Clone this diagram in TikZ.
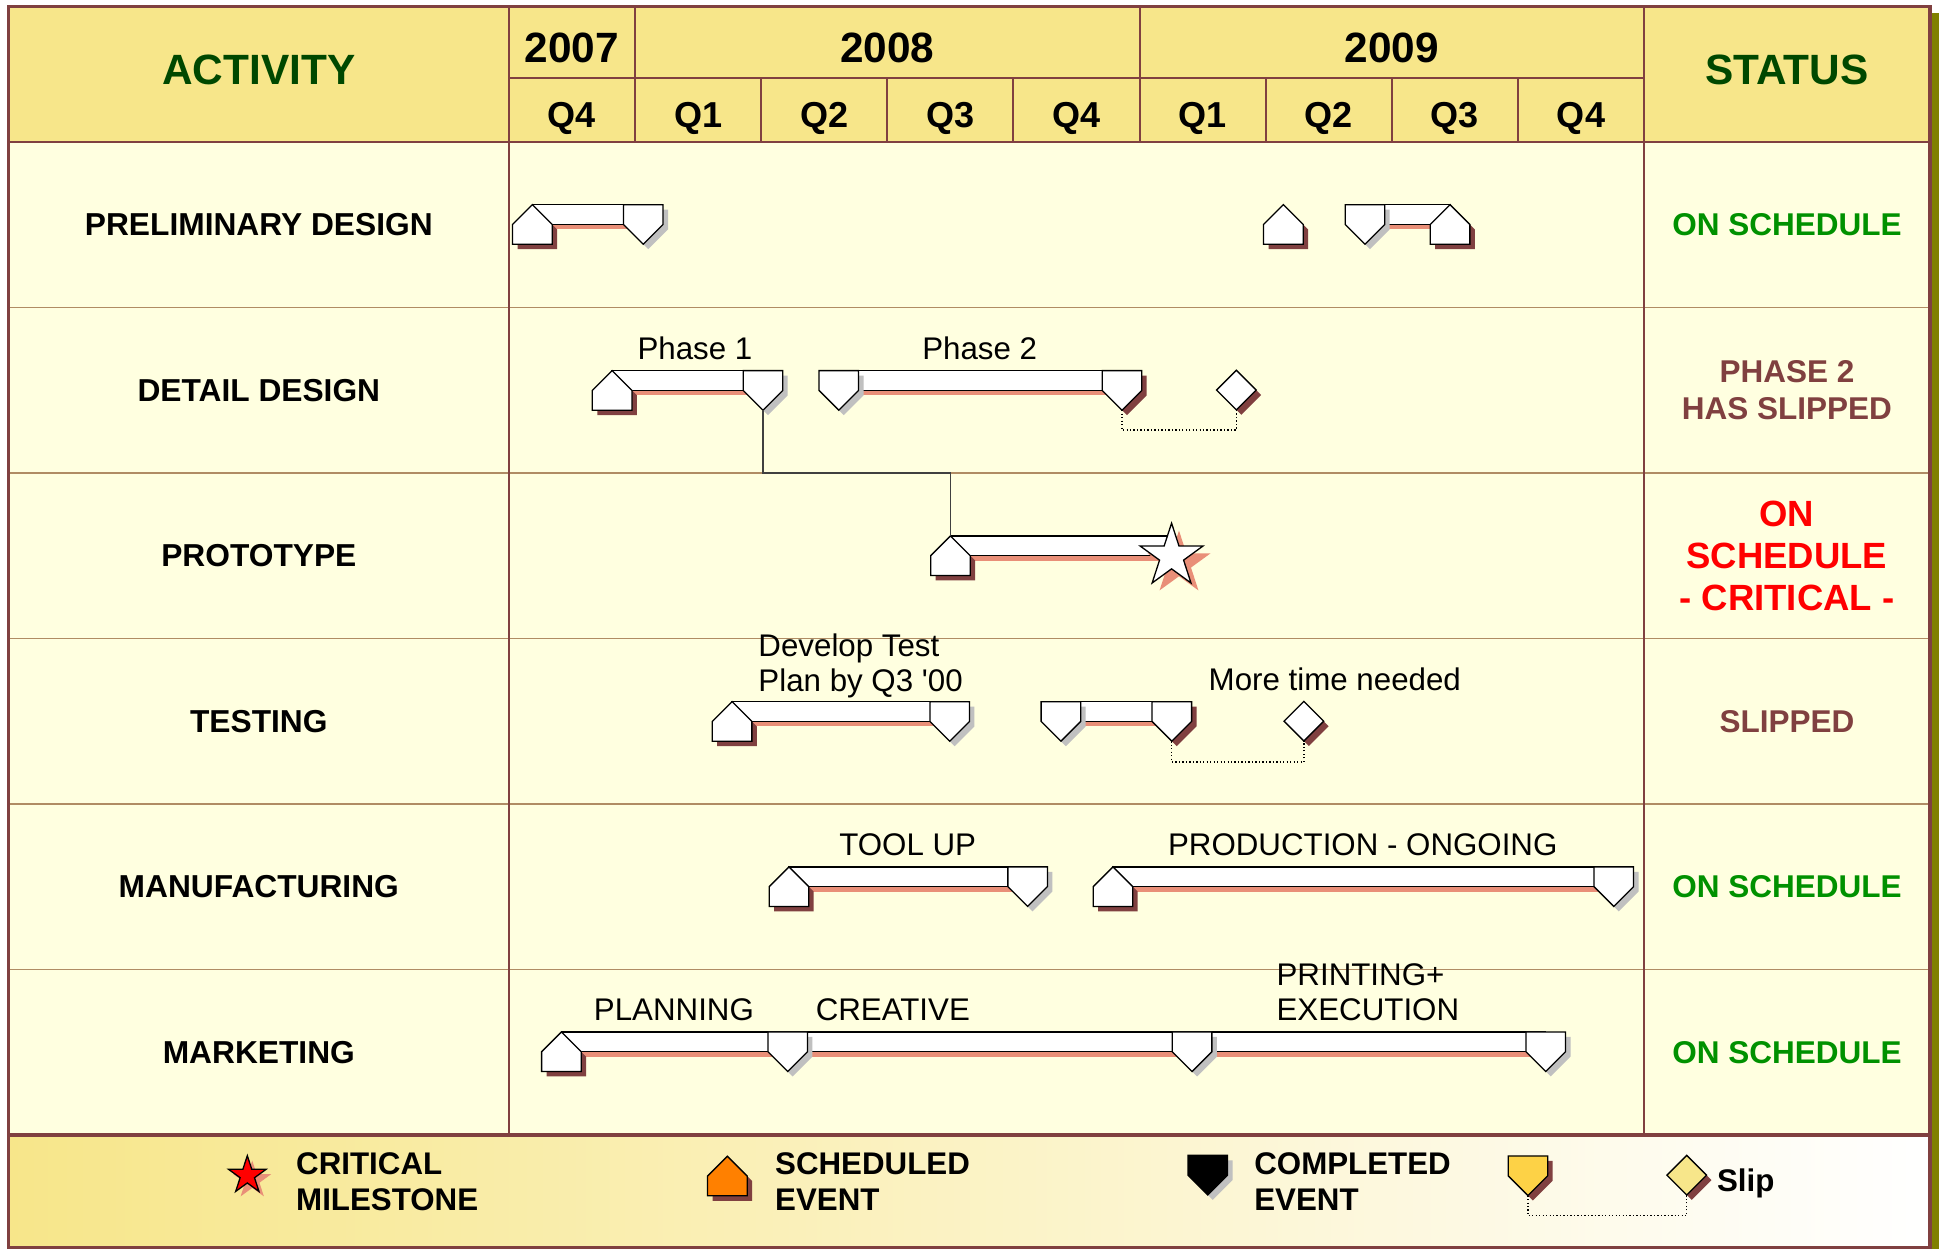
\documentclass[tikz,border=0pt]{standalone}
\usepackage{fontspec}
\setmainfont{Liberation Sans}
\usetikzlibrary{calc, shapes.geometric}
\definecolor{hdrfill}{RGB}{247,230,138}
\definecolor{bodyfill}{RGB}{255,255,224}
\definecolor{framered}{RGB}{128,64,64}
\definecolor{rowtan}{RGB}{176,140,100}
\definecolor{titlegreen}{RGB}{0,72,0}
\definecolor{okgreen}{RGB}{0,145,0}
\definecolor{slipbrown}{RGB}{128,64,64}
\definecolor{salmon}{RGB}{233,143,120}
\definecolor{evbrown}{RGB}{128,64,64}
\definecolor{evgray}{RGB}{192,192,192}
\definecolor{edgeolive}{RGB}{128,128,0}
\definecolor{evorange}{RGB}{255,128,0}
\definecolor{evgold}{RGB}{253,210,70}
\tikzset{
	evline/.style = {draw = black, line width = 0.6pt},
	pics/upev/.style 2 args = {code = {
		\fill [#2] (4, 4) -- (20, 20) -- (20, 36) -- (-12, 36) -- (-12, 20) -- cycle;
		\filldraw [fill = #1, evline] (0, 0) -- (16, 16) -- (16, 32) -- (-16, 32) -- (-16, 16) -- cycle;
		\coordinate (-top) at (0, 0);
		\coordinate (-tip) at (0, 32);
	}},
	pics/dnev/.style 2 args = {code = {
		\fill [#2] (-12, 4) -- (20, 4) -- (20, 20) -- (4, 36) -- (-12, 20) -- cycle;
		\filldraw [fill = #1, evline] (-16, 0) -- (16, 0) -- (16, 16) -- (0, 32) -- (-16, 16) -- cycle;
		\coordinate (-top) at (0, 0);
		\coordinate (-tip) at (0, 32);
	}},
	pics/slipev/.style 2 args = {code = {
		\fill [#2] (4, -12) -- (20, 4) -- (4, 20) -- (-12, 4) -- cycle;
		\filldraw [fill = #1, evline] (0, -16) -- (16, 0) -- (0, 16) -- (-16, 0) -- cycle;
		\coordinate (-tip) at (0, 16);
	}}
}
\newcommand{\taskbar}[2]{
	\fill [barshadow] ($(#1) + (4, 16)$) rectangle ($(#2) + (4, 20)$);
	\draw [barbody] (#1) rectangle ($(#2) + (0, 16)$);
}

\begin{document}
\begin{tikzpicture}[x = 0.02cm, y = -0.02cm,
	outerframe/.style = {draw = framered, line width = 1.4pt},
	gridline/.style = {draw = framered, line width = 0.9pt},
	rowline/.style = {draw = rowtan, line width = 0.7pt},
	headtext/.style = {inner sep = 0pt, anchor = base, text = titlegreen, font = \fontsize{19.5pt}{23pt}\selectfont\bfseries},
	yeartext/.style = {inner sep = 0pt, anchor = base, font = \fontsize{19.5pt}{23pt}\selectfont\bfseries},
	qtrtext/.style = {inner sep = 0pt, anchor = base, font = \fontsize{16.6pt}{20pt}\selectfont\bfseries},
	acttext/.style = {inner sep = 0pt, font = \fontsize{14.6pt}{17pt}\selectfont\bfseries},
	stattext/.style = {inner sep = 0pt, align = center, font = \fontsize{14.5pt}{17pt}\selectfont\bfseries},
	crittext/.style = {inner sep = 0pt, align = center, text = red, font = \fontsize{16.8pt}{19.2pt}\selectfont\bfseries},
	tasktext/.style = {inner sep = 0pt, font = \fontsize{14.4pt}{15.9pt}\selectfont},
	legtext/.style = {inner sep = 0pt, anchor = north west, align = left, font = \fontsize{14.4pt}{16.5pt}\selectfont\bfseries},
	barbody/.style = {fill = white, draw = black, line width = 0.6pt},
	barshadow/.style = {fill = salmon},
	link/.style = {draw = black!75, line width = 0.6pt},
	slipline/.style = {draw = black, densely dotted, line width = 0.6pt},
	crit/.style = {star, star points = 5, star point ratio = 2.618, inner sep = 0pt, minimum size = 1.07cm, draw = black, line width = 0.6pt, fill = white},
	critshadow/.style = {crit, draw = none, fill = salmon}]
	\useasboundingbox (0, 0) rectangle (1568, 1010);

	\fill [edgeolive] (1561.5, 10.5) rectangle (1568, 1010);
	\fill [hdrfill] (7.2, 5.4) rectangle (1560.7, 114.6);
	\fill [bodyfill] (7.2, 114.6) rectangle (1560.7, 917.9);
	\shade [left color = hdrfill, right color = white] (7.2, 917.9) rectangle (1560.7, 1009);

	\foreach \y in {248.5, 382.4, 516.3, 650.2, 784.1}
		\draw [rowline] (7.2, \y) -- (1560.7, \y);
	\draw [gridline] (411.5, 5.4) -- (411.5, 917.9);
	\draw [gridline] (1329.4, 5.4) -- (1329.4, 917.9);
	\draw [gridline] (411.5, 63.3) -- (1329.4, 63.3);
	\foreach \k in {1, ..., 8}
		\draw [gridline] (411.5 + 102 * \k, 63.3) -- (411.5 + 102 * \k, 114.6);
	\draw [gridline] (513.5, 5.4) -- (513.5, 63.3);
	\draw [gridline] (921.5, 5.4) -- (921.5, 63.3);
	\draw [gridline] (7.2, 114.6) -- (1560.7, 114.6);
	\draw [gridline, line width = 1.6pt] (7.2, 917.9) -- (1560.7, 917.9);
	\draw [outerframe] (7.2, 5.4) rectangle (1560.7, 1009);

	\node [headtext] (act) at (209.3, 68.5) {ACTIVITY};
	\node [headtext] (sts) at (1445, 68) {STATUS};
	\node [yeartext] (y1) at (462.5, 50.5) {2007};
	\node [yeartext] (y2) at (717.5, 50.5) {2008};
	\node [yeartext] (y3) at (1125.5, 50.5) {2009};
	\foreach \q [count = \i] in {Q4, Q1, Q2, Q3, Q4, Q1, Q2, Q3, Q4}
		\node [qtrtext] (q\i) at (360.5 + 102 * \i, 103) {\q};

	\foreach \a [count = \i] in {PRELIMINARY DESIGN, DETAIL DESIGN, PROTOTYPE, TESTING, MANUFACTURING, MARKETING}
		\node [acttext] (a\i) at (209.3, 47.65 + 133.9 * \i) {\a};

	\node [stattext, text = okgreen] (s1) at (1445, 181.55) {ON SCHEDULE};
	\node [stattext, text = slipbrown] (s2) at (1445, 315.5) {PHASE 2\\HAS SLIPPED};
	\node [crittext] (s3) at (1445, 449.7) {ON\\SCHEDULE\\- CRITICAL -};
	\node [stattext, text = slipbrown] (s4) at (1445, 583.35) {SLIPPED};
	\node [stattext, text = okgreen] (s5) at (1445, 717.25) {ON SCHEDULE};
	\node [stattext, text = okgreen] (s6) at (1445, 851.15) {ON SCHEDULE};

	\node [tasktext, anchor = base] (l1) at (562, 290.6) {Phase 1};
	\node [tasktext, anchor = base] (l2) at (792.2, 290.6) {Phase 2};
	\node [tasktext, anchor = north west, align = left] (l3) at (613, 512.3) {Develop Test\\Plan by Q3 \textquotesingle00};
	\node [tasktext, anchor = base west] (l4) at (977.1, 558.5) {More time needed};
	\node [tasktext, anchor = base] (l5) at (734, 692) {TOOL UP};
	\node [tasktext, anchor = base] (l6) at (1102, 692) {PRODUCTION - ONGOING};
	\node [tasktext, anchor = base] (l7) at (545, 825.4) {PLANNING};
	\node [tasktext, anchor = base] (l8) at (722, 825.4) {CREATIVE};
	\node [tasktext, anchor = north west, align = left] (l9) at (1032, 779.2) {PRINTING+\\EXECUTION};

	\coordinate (pd1) at (430.5, 165.5);
	\coordinate (pd2) at (520.2, 165.5);
	\coordinate (pd3) at (1037.8, 165.5);
	\coordinate (pd4) at (1103.8, 165.5);
	\coordinate (pd5) at (1172.6, 165.5);
	\coordinate (dd1) at (495, 299.7);
	\coordinate (dd2) at (617, 299.7);
	\coordinate (dd3) at (678.3, 299.7);
	\coordinate (dd4) at (907.3, 299.7);
	\coordinate (dd5) at (999.8, 315.4);
	\coordinate (pr1) at (768.6, 433.4);
	\coordinate (pr2) at (947.4, 433.4);
	\coordinate (ts1) at (592, 567.4);
	\coordinate (ts2) at (768, 567.4);
	\coordinate (ts3) at (857.9, 567.4);
	\coordinate (ts4) at (947.6, 567.4);
	\coordinate (ts5) at (1054.4, 583.2);
	\coordinate (mf1) at (638, 701);
	\coordinate (mf2) at (831, 701);
	\coordinate (mf3) at (900, 701);
	\coordinate (mf4) at (1305, 701);
	\coordinate (mk1) at (454, 834.5);
	\coordinate (mk2) at (637, 834.5);
	\coordinate (mk3) at (964, 834.5);
	\coordinate (mk4) at (1250, 834.5);

	\taskbar{pd1}{pd2}
	\taskbar{pd4}{pd5}
	\taskbar{dd1}{dd2}
	\taskbar{dd3}{dd4}
	\taskbar{pr1}{pr2}
	\taskbar{ts1}{ts2}
	\taskbar{ts3}{ts4}
	\taskbar{mf1}{mf2}
	\taskbar{mf3}{mf4}
	\taskbar{mk1}{mk4}

	\pic (pd1) at (pd1) {upev = {white}{evbrown}};
	\pic (pd2) at (pd2) {dnev = {white}{evgray}};
	\pic (pd3) at (pd3) {upev = {white}{evbrown}};
	\pic (pd4) at (pd4) {dnev = {white}{evgray}};
	\pic (pd5) at (pd5) {upev = {white}{evbrown}};
	\pic (dd1) at (dd1) {upev = {white}{evbrown}};
	\pic (dd2) at (dd2) {dnev = {white}{evgray}};
	\pic (dd3) at (dd3) {dnev = {white}{evgray}};
	\pic (dd4) at (dd4) {dnev = {white}{evbrown}};
	\pic (dd5) at (dd5) {slipev = {white}{evbrown}};
	\pic (pr1) at (pr1) {upev = {white}{evbrown}};
	\node [critshadow] (pr2s) at (953.4, 455.8) {};
	\node [crit] (pr2c) at (947.4, 449.8) {};
	\pic (ts1) at (ts1) {upev = {white}{evbrown}};
	\pic (ts2) at (ts2) {dnev = {white}{evgray}};
	\pic (ts3) at (ts3) {dnev = {white}{evgray}};
	\pic (ts4) at (ts4) {dnev = {white}{evbrown}};
	\pic (ts5) at (ts5) {slipev = {white}{evbrown}};
	\pic (mf1) at (mf1) {upev = {white}{evbrown}};
	\pic (mf2) at (mf2) {dnev = {white}{evgray}};
	\pic (mf3) at (mf3) {upev = {white}{evbrown}};
	\pic (mf4) at (mf4) {dnev = {white}{evgray}};
	\pic (mk1) at (mk1) {upev = {white}{evbrown}};
	\pic (mk2) at (mk2) {dnev = {white}{evgray}};
	\pic (mk3) at (mk3) {dnev = {white}{evgray}};
	\pic (mk4) at (mk4) {dnev = {white}{evgray}};

	\draw [link] (dd2-tip) |- ($(dd2-tip)!0.5!(pr1-top)$) -| (pr1-top);
	\draw [slipline] (dd4-tip) -- ++(0, 16) -| (dd5-tip);
	\draw [slipline] (ts4-tip) -- ++(0, 16.8) -| (ts5-tip);

	\node [critshadow, minimum size = 0.64cm] (lg1s) at (204, 954.5) {};
	\node [crit, minimum size = 0.64cm, fill = red] (lg1) at (200, 950.5) {};
	\pic (lg2) at (588.2, 935) {upev = {evorange}{evbrown}};
	\pic (lg3) at (976.7, 934.3) {dnev = {black}{evgray}};
	\pic (lg4) at (1235.6, 934.8) {dnev = {evgold}{evbrown}};
	\pic (lg5) at (1364, 950.3) {slipev = {hdrfill}{evbrown}};
	\draw [slipline] (lg4-tip) -- ++(0, 16.3) -| (lg5-tip);

	\node [legtext] (t1) at (239.2, 932.1) {CRITICAL\\MILESTONE};
	\node [legtext] (t2) at (626.5, 932.1) {SCHEDULED\\EVENT};
	\node [legtext] (t3) at (1014, 932.1) {COMPLETED\\EVENT};
	\node [legtext, anchor = base west] (t4) at (1388.2, 963.7) {Slip};
\end{tikzpicture}
\end{document}
